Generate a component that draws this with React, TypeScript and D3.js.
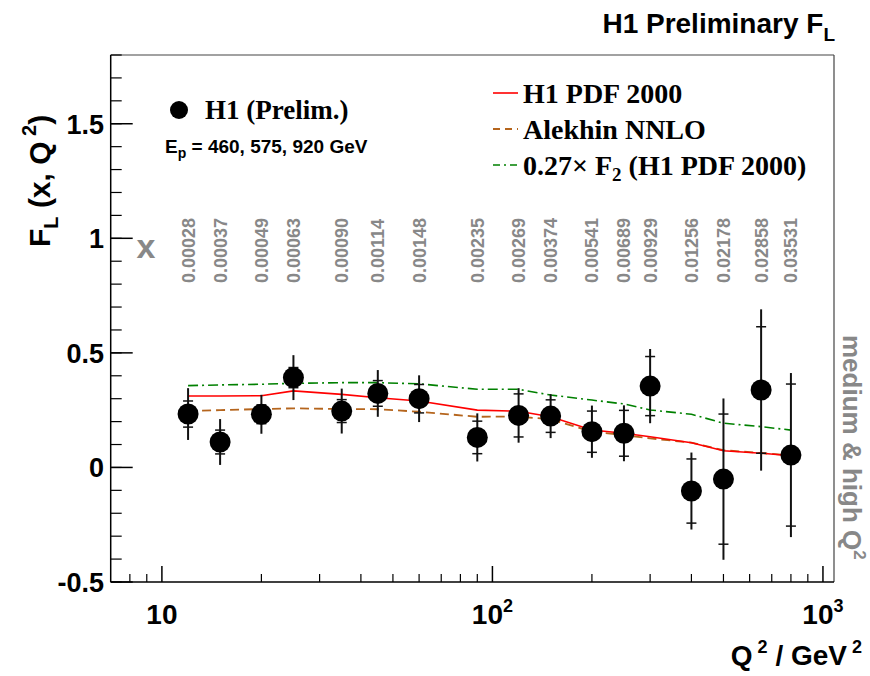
import React from "react";
import * as d3 from "d3";

// Q^2 of the measured points (GeV^2)
const q2 = [12, 15, 20, 25, 35, 45, 60, 90, 120, 150, 200, 250, 300, 400, 500, 650, 800];
// Bjorken x for each point
const xLabels = [
  "0.00028", "0.00037", "0.00049", "0.00063", "0.00090", "0.00114", "0.00148",
  "0.00235", "0.00269", "0.00374", "0.00541", "0.00689", "0.00929", "0.01256",
  "0.02178", "0.02858", "0.03531",
];
const fl = [0.233, 0.111, 0.232, 0.392, 0.246, 0.323, 0.3, 0.131, 0.227, 0.224, 0.156, 0.149, 0.355, -0.103, -0.051, 0.338, 0.054];
const statErr = [0.057, 0.052, 0.041, 0.044, 0.05, 0.056, 0.062, 0.071, 0.094, 0.071, 0.09, 0.1, 0.129, 0.14, 0.284, 0.276, 0.31];
const totErr = [0.113, 0.1, 0.085, 0.098, 0.098, 0.102, 0.102, 0.105, 0.119, 0.096, 0.114, 0.122, 0.162, 0.168, 0.352, 0.352, 0.358];

// theory curves at the same Q^2
const h1pdf = [0.312, 0.312, 0.313, 0.334, 0.319, 0.304, 0.29, 0.25, 0.245, 0.221, 0.163, 0.149, 0.134, 0.108, 0.073, 0.062, 0.051];
const alekhin = [0.246, 0.25, 0.255, 0.258, 0.255, 0.254, 0.243, 0.221, 0.222, 0.21, 0.156, 0.141, 0.127, 0.108, 0.075, 0.063, 0.052];
const f2scaled = [0.357, 0.36, 0.363, 0.367, 0.37, 0.37, 0.365, 0.341, 0.341, 0.316, 0.294, 0.277, 0.251, 0.232, 0.193, 0.178, 0.163];

const yMajor = [-0.5, 0, 0.5, 1, 1.5];
const yMinor = d3.range(-5, 19).map((i) => i / 10);
const xMinor = [8, 9, 20, 30, 40, 50, 60, 70, 80, 90, 200, 300, 400, 500, 600, 700, 800, 900];
const xMajor = [10, 100, 1000];

const sans = "Liberation Sans, Arial, Helvetica, sans-serif";
const serif = "Liberation Serif, Times New Roman, serif";

export default function App() {
  const W = 870, H = 676;
  const left = 110.7, right = 834, top = 55, bottom = 582;

  const x = d3.scaleLog().domain([7, 1080]).range([left, right]);
  const y = d3.scaleLinear().domain([-0.5, 1.8]).range([bottom, top]);

  const line = d3
    .line<number>()
    .x((_, i) => x(q2[i]))
    .y((d) => y(d));

  return (
    <svg width={W} height={H} style={{ position: "absolute", left: 0, top: 0, background: "#fff" }}>
      {/* frame */}
      <line x1={left} y1={top} x2={right} y2={top} stroke="#444" strokeWidth={1.2} />
      <line x1={right} y1={top} x2={right} y2={bottom} stroke="#444" strokeWidth={1.2} />
      <line x1={left} y1={top} x2={left} y2={bottom} stroke="#000" strokeWidth={1.5} />
      <line x1={left} y1={bottom} x2={right} y2={bottom} stroke="#000" strokeWidth={1.5} />

      {/* y ticks */}
      {yMinor.map((v) => (
        <line key={"ym" + v} x1={left} x2={left + 11} y1={y(v)} y2={y(v)} stroke="#000" strokeWidth={1.2} />
      ))}
      {yMajor.map((v) => (
        <g key={"yM" + v}>
          <line x1={left} x2={left + 22} y1={y(v)} y2={y(v)} stroke="#000" strokeWidth={1.5} />
          <text x={104} y={y(v) + 10} textAnchor="end" fontFamily={sans} fontWeight="bold" fontSize={27}>
            {v}
          </text>
        </g>
      ))}

      {/* x ticks */}
      {xMinor.map((v) => (
        <line key={"xm" + v} x1={x(v)} x2={x(v)} y1={bottom} y2={bottom - 8} stroke="#000" strokeWidth={1.2} />
      ))}
      {xMajor.map((v) => (
        <line key={"xM" + v} x1={x(v)} x2={x(v)} y1={bottom} y2={bottom - 16} stroke="#000" strokeWidth={1.5} />
      ))}
      <text x={x(10)} y={624} textAnchor="middle" fontFamily={sans} fontWeight="bold" fontSize={28}>10</text>
      <text x={x(100)} y={624} textAnchor="middle" fontFamily={sans} fontWeight="bold" fontSize={28}>
        10<tspan dy={-12} fontSize={18}>2</tspan>
      </text>
      <text x={x(1000)} y={624} textAnchor="middle" fontFamily={sans} fontWeight="bold" fontSize={28}>
        10<tspan dy={-12} fontSize={18}>3</tspan>
      </text>

      {/* axis titles */}
      <text x={862} y={665} textAnchor="end" fontFamily={sans} fontWeight="bold" fontSize={28}>
        Q<tspan dy={-12} fontSize={18}> 2</tspan>
        <tspan dy={12}> / GeV</tspan>
        <tspan dy={-12} fontSize={18}> 2</tspan>
      </text>
      <text transform="translate(50,247) rotate(-90)" fontFamily={sans} fontWeight="bold" fontSize={30}>
        F<tspan dy={8} fontSize={20}>L</tspan>
        <tspan dy={-8}> (x, Q</tspan>
        <tspan dy={-14} fontSize={20}> 2</tspan>
        <tspan dy={14}>)</tspan>
      </text>
      <text x={835} y={33} textAnchor="end" fontFamily={sans} fontWeight="bold" fontSize={28}>
        H1 Preliminary F<tspan dy={8} fontSize={19}>L</tspan>
      </text>

      {/* grey annotations */}
      <text x={146} y={258} textAnchor="middle" fill="#888" fontFamily={sans} fontWeight="bold" fontSize={34}>x</text>
      {q2.map((q, i) => (
        <text
          key={"xl" + i}
          transform={`translate(${x(q) + 6.5},283) rotate(-90)`}
          fill="#888"
          fontFamily={sans}
          fontWeight="bold"
          fontSize={18}
        >
          {xLabels[i]}
        </text>
      ))}
      <text transform="translate(843,335) rotate(90)" fill="#888" fontFamily={sans} fontWeight="bold" fontSize={26}>
        medium &amp; high Q<tspan dy={-11} fontSize={17}>2</tspan>
      </text>

      {/* theory curves */}
      <path d={line(f2scaled) || ""} fill="none" stroke="#008000" strokeWidth={1.6} strokeDasharray="10 4 2 4" />
      <path d={line(alekhin) || ""} fill="none" stroke="#b5651d" strokeWidth={1.8} strokeDasharray="9 5" />
      <path d={line(h1pdf) || ""} fill="none" stroke="#ff0000" strokeWidth={1.6} />

      {/* data */}
      {q2.map((q, i) => {
        const cx = x(q);
        const v = fl[i];
        return (
          <g key={"p" + i}>
            <line x1={cx} x2={cx} y1={y(v + totErr[i])} y2={y(v - totErr[i])} stroke="#111" strokeWidth={2} />
            <line x1={cx - 5} x2={cx + 5} y1={y(v + statErr[i])} y2={y(v + statErr[i])} stroke="#111" strokeWidth={1.5} />
            <line x1={cx - 5} x2={cx + 5} y1={y(v - statErr[i])} y2={y(v - statErr[i])} stroke="#111" strokeWidth={1.5} />
            <circle cx={cx} cy={y(v)} r={10.5} fill="#000" />
          </g>
        );
      })}

      {/* left legend */}
      <circle cx={179} cy={110} r={9} fill="#000" />
      <text x={205} y={119} fontFamily={serif} fontWeight="bold" fontSize={27}>H1 (Prelim.)</text>
      <text x={165} y={153} fontFamily={sans} fontWeight="bold" fontSize={19}>
        E<tspan dy={5} fontSize={14}>p</tspan>
        <tspan dy={-5}> = 460, 575, 920 GeV</tspan>
      </text>

      {/* right legend */}
      <line x1={493} x2={518} y1={93} y2={93} stroke="#ff0000" strokeWidth={1.6} />
      <text x={523} y={103} fontFamily={serif} fontWeight="bold" fontSize={28}>H1 PDF 2000</text>
      <line x1={493} x2={518} y1={129} y2={129} stroke="#b5651d" strokeWidth={1.8} strokeDasharray="7 5" />
      <text x={523} y={139} fontFamily={serif} fontWeight="bold" fontSize={28}>Alekhin NNLO</text>
      <line x1={493} x2={518} y1={165} y2={165} stroke="#008000" strokeWidth={1.6} strokeDasharray="7 4 2 4" />
      <text x={523} y={175} fontFamily={serif} fontWeight="bold" fontSize={28}>
        0.27× F<tspan dy={6} fontSize={19}>2</tspan>
        <tspan dy={-6}> (H1 PDF 2000)</tspan>
      </text>
    </svg>
  );
}
